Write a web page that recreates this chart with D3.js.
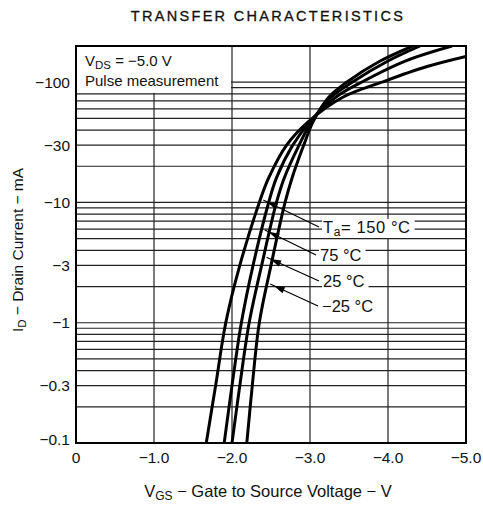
<!DOCTYPE html>
<html><head><meta charset="utf-8">
<script src="https://cdn.jsdelivr.net/npm/d3@7"></script>
<style>
body{margin:0;background:#fff;}
text{font-family:"Liberation Sans",Arial,Helvetica,sans-serif;fill:#111;}
</style></head>
<body><svg id="c" width="483" height="508"></svg>
<script>
// ---- data (magnitudes; chart shows negative values) ----
const xTickValues = [0, 1, 2, 3, 4, 5];
const xTickLabels = ["0", "\u22121.0", "\u22122.0", "\u22123.0", "\u22124.0", "\u22125.0"];
const yTickValues = [100, 30, 10, 3, 1, 0.3, 0.1];
const yTickLabels = ["\u2212100", "\u221230", "\u221210", "\u22123", "\u22121", "\u22120.3", "\u22120.1"];
const temps = ["150", "75", "25", "\u221225"];
const vgs150 = [1.67, 1.79, 1.92, 2.10, 2.35, 2.47, 2.70, 2.98, 3.42, 3.92, 4.50, 5.00];
const id150  = [0.1, 0.3, 1, 3, 10, 16, 30, 47, 75, 100, 135, 164];
const vgs75  = [1.90, 2.00, 2.12, 2.27, 2.47, 2.57, 2.78, 3.00, 3.33, 3.66, 4.22, 4.82];
const id75   = [0.1, 0.3, 1, 3, 10, 16, 30, 47, 75, 100, 150, 200];
const vgs25  = [2.00, 2.10, 2.22, 2.38, 2.57, 2.67, 2.86, 3.02, 3.27, 3.54, 4.00, 4.41];
const id25   = [0.1, 0.3, 1, 3, 10, 16, 30, 47, 75, 100, 150, 200];
const vgsM25 = [2.19, 2.26, 2.35, 2.50, 2.68, 2.77, 2.92, 3.04, 3.24, 3.47, 3.90, 4.32];
const idM25  = [0.1, 0.3, 1, 3, 10, 16, 30, 47, 75, 100, 150, 200];
const labelCurrents = [10.5, 5.9, 3.5, 2.1];

const series = [
  {t: temps[0], v: vgs150, i: id150},
  {t: temps[1], v: vgs75, i: id75},
  {t: temps[2], v: vgs25, i: id25},
  {t: temps[3], v: vgsM25, i: idM25}
];

const svg = d3.select("#c");
const L = 76, R = 466, T = 46, B = 443;
const x = d3.scaleLinear().domain([0, 5]).range([L, R]);
const y = d3.scaleLog().domain([0.1, 200]).range([B, T]);

// title
svg.append("text").attr("x", 268).attr("y", 21).attr("text-anchor", "middle")
  .style("font-size", "14.5px").style("letter-spacing", "2.3px").style("stroke", "#111").style("stroke-width", "0.3px")
  .text("TRANSFER CHARACTERISTICS");

// grid
const gridY = [];
for (let d = 0.1; d < 150; d *= 10) for (let k = 1; k <= 9; k++) { const v = +(d * k).toPrecision(3); if (v < 200) gridY.push(v); }
const g = svg.append("g");
g.selectAll("line.h").data(gridY).join("line")
  .attr("x1", L).attr("x2", R).attr("y1", d => y(d)).attr("y2", d => y(d))
  .attr("stroke", "#222").attr("stroke-width", 1.2);
g.selectAll("line.v").data(xTickValues.slice(1, -1)).join("line")
  .attr("y1", T).attr("y2", B).attr("x1", d => x(d)).attr("x2", d => x(d))
  .attr("stroke", "#222").attr("stroke-width", 1.2);

// legend box (covers grid)
svg.append("rect").attr("x", L).attr("y", T).attr("width", x(2) - L - 1).attr("height", y(80) - T - 1).attr("fill", "#fff");
const lg = svg.append("text").attr("x", 85).attr("y", 66).style("font-size", "15px");
lg.append("tspan").text("V");
lg.append("tspan").attr("dy", 3).style("font-size", "11.5px").text("DS");
lg.append("tspan").attr("dy", -3).text(" = \u22125.0 V");
svg.append("text").attr("x", 85).attr("y", 86).style("font-size", "15px").text("Pulse measurement");

// clip
svg.append("clipPath").attr("id", "clip").append("rect").attr("x", L).attr("y", T).attr("width", R - L).attr("height", B - T);

// curves
const line = d3.line().x(d => x(d[0])).y(d => y(d[1])).curve(d3.curveCatmullRom.alpha(0.5));
svg.append("g").attr("clip-path", "url(#clip)").selectAll("path").data(series).join("path")
  .attr("d", s => line(s.v.map((v, k) => [v, s.i[k]])))
  .attr("fill", "none").attr("stroke", "#000").attr("stroke-width", 3);

// border
svg.append("rect").attr("x", L).attr("y", T).attr("width", R - L).attr("height", B - T)
  .attr("fill", "none").attr("stroke", "#000").attr("stroke-width", 2);

// annotations
function vAt(s, cur) {
  const lc = Math.log10(cur);
  for (let k = 0; k < s.i.length - 1; k++) {
    const a = Math.log10(s.i[k]), b = Math.log10(s.i[k + 1]);
    if (lc >= a && lc <= b) return s.v[k] + (s.v[k + 1] - s.v[k]) * (lc - a) / (b - a);
  }
  return s.v[0];
}
const labY = [233, 261, 287, 312];
const labX = [323, 320, 323, 322];
series.forEach((s, k) => {
  const tx = x(vAt(s, labelCurrents[k])) + 3, ty = y(labelCurrents[k]);
  const sx = labX[k] - 4, sy = labY[k] - 6;
  const gt = svg.append("g");
  const t = gt.append("text").attr("x", labX[k]).attr("y", labY[k]).style("font-size", "16.5px");
  if (k === 0) {
    t.style("letter-spacing", "0.6px");
    t.append("tspan").text("T");
    t.append("tspan").attr("dy", 3).style("font-size", "12px").text("a");
    t.append("tspan").attr("dy", -3).text("= 150 \u00B0C");
  } else {
    t.text(s.t + " \u00B0C");
  }
  const bb = t.node().getBBox();
  gt.insert("rect", "text").attr("x", bb.x - 1).attr("y", bb.y + 1).attr("width", bb.width + 5).attr("height", bb.height - 2).attr("fill", "#fff");
  svg.append("line").attr("x1", sx).attr("y1", sy).attr("x2", tx).attr("y2", ty).attr("stroke", "#000").attr("stroke-width", 1.2);
  const ang = Math.atan2(sy - ty, sx - tx);
  const hx = tx + Math.cos(ang) * 4, hy = ty + Math.sin(ang) * 4;
  const len = 11, w = 3.2;
  const bx = hx + Math.cos(ang) * len, by = hy + Math.sin(ang) * len;
  svg.append("path").attr("d", `M${hx},${hy}L${bx - Math.sin(ang) * w},${by + Math.cos(ang) * w}L${bx + Math.sin(ang) * w},${by - Math.cos(ang) * w}Z`).attr("fill", "#000");
});

// axis labels
svg.selectAll("text.yt").data(yTickValues).join("text").attr("class", "yt")
  .attr("x", 70).attr("y", (d, k) => k === yTickValues.length - 1 ? y(d) - 3 : y(d)).attr("dy", "0.35em")
  .attr("text-anchor", "end").style("font-size", "15.5px").text((d, k) => yTickLabels[k]);
svg.selectAll("text.xt").data(xTickValues).join("text").attr("class", "xt")
  .attr("x", d => x(d)).attr("y", 463).attr("text-anchor", "middle")
  .style("font-size", "15.5px").text((d, k) => xTickLabels[k]);

const xt = svg.append("text").attr("x", 268).attr("y", 497).attr("text-anchor", "middle").style("font-size", "16.5px");
xt.append("tspan").text("V");
xt.append("tspan").attr("dy", 3).style("font-size", "12px").text("GS");
xt.append("tspan").attr("dy", -3).text(" \u2212 Gate to Source Voltage \u2212 V");

const yt = svg.append("text").attr("transform", "translate(23,250) rotate(-90)").attr("text-anchor", "middle").style("font-size", "15.5px");
yt.append("tspan").text("I");
yt.append("tspan").attr("dy", 3).style("font-size", "11.5px").text("D");
yt.append("tspan").attr("dy", -3).text(" \u2212 Drain Current \u2212 mA");
</script></body></html>
